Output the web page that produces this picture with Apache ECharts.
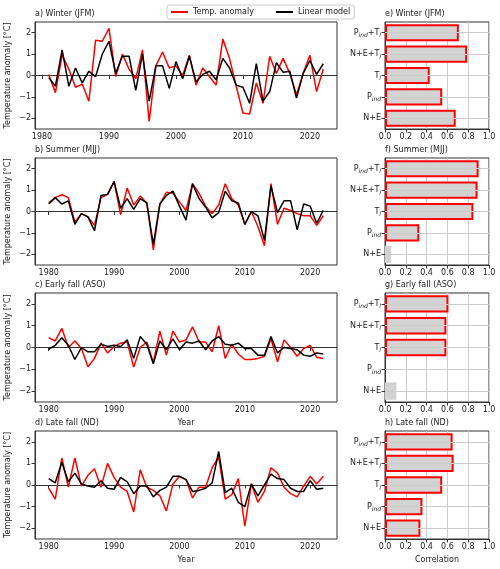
<!DOCTYPE html>
<html>
<head>
<meta charset="utf-8">
<script src="https://cdn.jsdelivr.net/npm/echarts@6/dist/echarts.min.js"></script>
<style>
html,body{margin:0;padding:0;background:#fff;}
#chart{width:500px;height:569px;}
</style>
</head>
<body>
<div id="chart"></div>
<script>
// ---------------- DATA ----------------
const YEARS_WINTER = [1981,1982,1983,1984,1985,1986,1987,1988,1989,1990,1991,1992,1993,1994,1995,1996,1997,1998,1999,2000,2001,2002,2003,2004,2005,2006,2007,2008,2009,2010,2011,2012,2013,2014,2015,2016,2017,2018,2019,2020,2021,2022];
const YEARS = [1980,1981,1982,1983,1984,1985,1986,1987,1988,1989,1990,1991,1992,1993,1994,1995,1996,1997,1998,1999,2000,2001,2002,2003,2004,2005,2006,2007,2008,2009,2010,2011,2012,2013,2014,2015,2016,2017,2018,2019,2020,2021,2022];

const winterTemp   = [0.05,-0.8,0.95,0.3,-0.55,-0.4,-1.2,1.65,1.6,2.2,-0.05,1.0,0.3,-0.15,1.2,-2.15,0.45,1.1,0.35,0.45,0.0,0.95,-0.45,0.35,-0.05,-0.45,1.7,0.8,-0.5,-1.75,-1.8,-0.35,-1.3,0.9,0.1,0.8,0.1,-0.9,0.1,0.95,-0.75,0.3];
const winterModel  = [-0.1,-0.5,1.2,-0.5,0.35,-0.35,0.2,-0.05,1.0,1.6,0.1,0.9,0.9,-0.7,1.0,-1.2,0.45,0.45,-0.6,0.65,-0.15,0.9,-0.3,0.05,0.2,-0.2,0.8,0.35,-0.45,-0.55,-1.3,0.55,-1.2,-0.75,0.6,0.15,0.2,-1.05,0.1,0.7,0.05,0.55];

const summerTemp   = [0.4,0.65,0.78,0.65,-0.5,-0.1,-0.25,-0.65,0.65,0.8,1.4,-0.15,1.1,0.3,0.72,0.4,-1.8,0.35,0.9,0.85,0.45,0.05,1.3,0.85,0.25,-0.1,0.3,1.3,0.6,0.3,-0.6,0.0,-0.7,-1.6,1.3,-0.6,0.15,0.05,-0.1,-0.2,-0.2,-0.65,-0.2];
const summerModel  = [0.35,0.65,0.35,0.5,-0.6,-0.1,-0.25,-0.9,0.75,0.8,1.4,0.15,0.6,0.1,0.6,0.4,-1.55,0.35,0.75,0.95,0.25,-0.4,1.3,0.6,0.2,-0.3,-0.05,0.95,0.5,0.4,-0.6,0.0,-0.2,-1.35,1.2,-0.05,0.5,0.5,-0.85,0.35,0.25,-0.55,0.05];

const earlyTemp    = [0.45,0.3,0.88,0.0,0.3,-0.05,-0.88,-0.5,0.2,-0.25,0.05,0.2,0.25,-0.9,0.0,0.25,-0.7,0.75,-0.35,0.75,0.25,0.35,0.95,0.25,0.25,-0.2,1.0,-0.5,0.15,-0.3,-0.55,-0.55,-0.5,-0.4,0.4,-0.65,0.35,0.0,-0.4,-0.05,0.1,-0.45,-0.5];
const earlyModel   = [-0.08,0.1,0.45,0.1,-0.55,0.0,-0.2,-0.2,0.15,0.05,0.1,0.05,0.35,-0.5,0.5,0.15,-0.75,0.3,-0.1,0.4,-0.1,0.25,0.2,0.3,-0.1,0.3,0.5,0.15,0.1,0.2,-0.05,-0.05,-0.35,-0.35,0.5,-0.25,0.0,-0.05,-0.1,-0.35,-0.4,-0.25,-0.3];

const lateTemp     = [-0.15,-0.65,1.25,-0.1,1.25,-0.05,0.45,0.75,-0.1,1.0,0.35,-0.1,-0.3,-1.25,0.7,-0.1,-0.25,-0.5,-1.2,0.05,0.4,0.25,-0.6,-0.1,-0.1,0.8,1.3,-0.65,-0.45,0.3,-1.9,0.05,-0.8,-0.3,0.8,0.55,-0.1,-0.4,-0.55,-0.05,0.4,0.05,0.4];
const lateModel    = [0.3,0.1,1.05,0.15,0.55,0.05,-0.05,-0.1,0.2,-0.15,-0.2,0.35,0.15,-0.4,-0.05,-0.05,-0.55,-0.25,-0.1,0.4,0.4,0.25,-0.3,-0.25,-0.15,0.1,1.55,-0.35,-0.15,-0.8,-1.0,0.05,-0.5,0.0,0.5,0.3,0.25,-0.15,-0.3,-0.3,0.2,-0.2,-0.15];

const YEAR_TICKS = [1980,1990,2000,2010,2020];
const ANOM_TICKS = [-2,-1,0,1,2];

const PREDICTORS = ['N+E','P_ind','T_l','N+E+T_l','P_ind+T_l'];
const corrWinter = [0.68,0.55,0.43,0.79,0.71];
const corrSummer = [0.06,0.33,0.85,0.89,0.90];
const corrEarly  = [0.11,0.0,0.59,0.59,0.61];
const corrLate   = [0.34,0.36,0.55,0.66,0.65];
const sigWinter = [true,true,true,true,true];
const sigSummer = [false,true,true,true,true];
const sigEarly  = [false,false,true,true,true];
const sigLate   = [true,true,true,true,true];

const LINE_TITLES = ['a) Winter (JFM)','b) Summer (MJJ)','c) Early fall (ASO)','d) Late fall (ND)'];
const BAR_TITLES  = ['e) Winter (JFM)','f) Summer (MJJ)','g) Early fall (ASO)','h) Late fall (ND)'];

// ---------------- LAYOUT ----------------
const FONT = 'DejaVu Sans';
const FS = 8;
const TXT = '#222';
const AX = '#333';
const panelTop = [22,158,293,431];
const panelH = [107,107,109,108];
const lineLeft = 35, lineW = 302;
const barLeft = 385, barW = 104;

const lineSets = [
  {years: YEARS_WINTER, temp: winterTemp, model: winterModel},
  {years: YEARS, temp: summerTemp, model: summerModel},
  {years: YEARS, temp: earlyTemp, model: earlyModel},
  {years: YEARS, temp: lateTemp, model: lateModel}
];
const barSets = [
  {corr: corrWinter, sig: sigWinter},
  {corr: corrSummer, sig: sigSummer},
  {corr: corrEarly, sig: sigEarly},
  {corr: corrLate, sig: sigLate}
];

const richLabel = {
  'N+E': 'N+E',
  'P_ind': 'P{s|ind}',
  'T_l': 'T{s|l}',
  'N+E+T_l': 'N+E+T{s|l}',
  'P_ind+T_l': 'P{s|ind}+T{s|l}'
};

const grid = [], xAxis = [], yAxis = [], series = [], titles = [];

function minus(v){ return String(v).replace('-', '\u2212'); }

lineSets.forEach((s, i) => {
  const gi = grid.length;
  grid.push({left: lineLeft, top: panelTop[i], width: lineW, height: panelH[i], show: true,
    containLabel: false, outerBoundsMode: 'none',
    borderColor: AX, borderWidth: 1, backgroundColor: 'transparent'});
  const first = s.years[0], last = s.years[s.years.length-1];
  const pad = (last - first) * 0.05;
  xAxis.push({type: 'value', gridIndex: gi, min: first - pad, max: last + pad,
    axisLine: {show: true, lineStyle: {color: AX}},
    axisTick: {show: true, length: 3.5, lineStyle: {color: AX}, customValues: YEAR_TICKS},
    axisLabel: {color: TXT, fontSize: FS, fontFamily: FONT, margin: 4, customValues: YEAR_TICKS, formatter: v => String(v)},
    splitLine: {show: false},
    name: (i >= 2) ? 'Year' : '', nameLocation: 'middle', nameGap: 17, nameMoveOverlap: false,
    nameTextStyle: {color: TXT, fontSize: FS, fontFamily: FONT}
  });
  yAxis.push({type: 'value', gridIndex: gi, min: -2.5, max: 2.5,
    axisLine: {show: true, lineStyle: {color: AX}},
    axisTick: {show: true, length: 3.5, lineStyle: {color: AX}, customValues: ANOM_TICKS},
    axisLabel: {color: TXT, fontSize: FS, fontFamily: FONT, margin: 4, customValues: ANOM_TICKS, formatter: v => minus(v)},
    splitLine: {show: false},
    name: 'Temperature anomaly [°C]', nameLocation: 'middle', nameGap: 23, nameRotate: 90, nameMoveOverlap: false,
    nameTextStyle: {color: TXT, fontSize: FS, fontFamily: FONT}
  });
  series.push({name: 'Temp. anomaly', type: 'line', xAxisIndex: gi, yAxisIndex: gi,
    data: s.years.map((y, k) => [y, s.temp[k]]), showSymbol: false, symbol: 'none',
    lineStyle: {color: '#ff0000', width: 1.5}, itemStyle: {color: '#ff0000'}, z: 2});
  series.push({name: 'Linear model', type: 'line', xAxisIndex: gi, yAxisIndex: gi,
    data: s.years.map((y, k) => [y, s.model[k]]), showSymbol: false, symbol: 'none',
    lineStyle: {color: '#000000', width: 1.5}, itemStyle: {color: '#000000'}, z: 3});
  titles.push({text: LINE_TITLES[i], left: lineLeft, top: panelTop[i] - 12,
    textStyle: {fontSize: FS, fontWeight: 'normal', color: TXT, fontFamily: FONT}, padding: 0});
});

barSets.forEach((s, i) => {
  const gi = grid.length;
  grid.push({left: barLeft, top: panelTop[i], width: barW, height: panelH[i], show: true,
    containLabel: false, outerBoundsMode: 'none',
    borderColor: AX, borderWidth: 1, backgroundColor: 'transparent'});
  xAxis.push({type: 'value', gridIndex: gi, min: 0, max: 1, interval: 0.2,
    axisLine: {show: true, lineStyle: {color: AX}},
    axisTick: {show: true, length: 3.5, lineStyle: {color: AX}},
    axisLabel: {color: TXT, fontSize: FS, fontFamily: FONT, margin: 4, formatter: v => v.toFixed(1), showMinLabel: true, showMaxLabel: true},
    splitLine: {show: true, lineStyle: {color: '#cccccc', width: 1}},
    name: (i === 3) ? 'Correlation' : '', nameLocation: 'middle', nameGap: 17, nameMoveOverlap: false,
    nameTextStyle: {color: TXT, fontSize: FS, fontFamily: FONT}
  });
  yAxis.push({type: 'category', gridIndex: gi, data: PREDICTORS,
    axisLine: {show: true, lineStyle: {color: AX}},
    axisTick: {show: true, length: 3.5, alignWithLabel: true, lineStyle: {color: AX}},
    axisLabel: {color: TXT, fontSize: FS, fontFamily: FONT, margin: 4, lineHeight: 12,
      formatter: v => richLabel[v],
      rich: {s: {fontSize: 6, fontStyle: 'italic', fontFamily: FONT, color: TXT, verticalAlign: 'bottom', lineHeight: 12}}},
    splitLine: {show: false}
  });
  series.push({type: 'line', xAxisIndex: gi, yAxisIndex: gi, data: [], z: 1,
    markLine: {silent: true, symbol: ['none','none'], label: {show: false}, animation: false,
      lineStyle: {color: '#cccccc', type: 'solid', width: 1},
      data: PREDICTORS.map(c => ({yAxis: c}))}});
  series.push({type: 'bar', xAxisIndex: gi, yAxisIndex: gi, barWidth: '80%', z: 2,
    data: s.corr.map((v, k) => ({value: v, itemStyle: {color: '#d3d3d3',
      borderColor: s.sig[k] ? '#ff0000' : '#d3d3d3', borderWidth: s.sig[k] ? 2 : 0}}))});
  titles.push({text: BAR_TITLES[i], left: barLeft, top: panelTop[i] - 12,
    textStyle: {fontSize: FS, fontWeight: 'normal', color: TXT, fontFamily: FONT}, padding: 0});
});

const chart = echarts.init(document.getElementById('chart'), null, {renderer: 'canvas'});
chart.setOption({
  animation: false,
  backgroundColor: '#fff',
  textStyle: {fontFamily: FONT},
  title: titles,
  legend: {
    data: [{name: 'Temp. anomaly', icon: 'rect'}, {name: 'Linear model', icon: 'rect'}],
    left: 167, top: 5, itemWidth: 17, itemHeight: 2, itemGap: 22,
    padding: [3, 4, 3, 4], borderColor: '#cccccc', borderWidth: 1, borderRadius: 2,
    textStyle: {fontSize: FS, color: TXT, fontFamily: FONT}
  },
  grid, xAxis, yAxis, series
});
</script>
</body>
</html>
